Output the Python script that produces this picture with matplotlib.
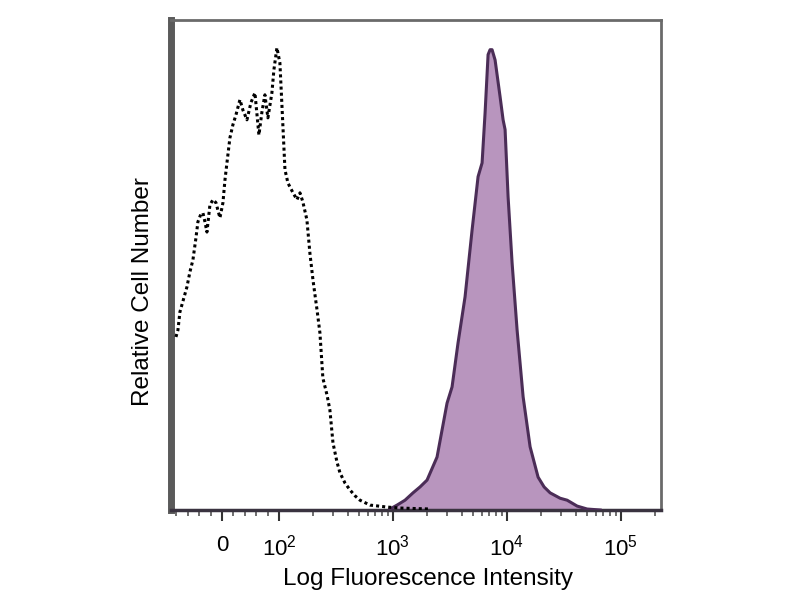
import matplotlib
matplotlib.use("Agg")
import matplotlib.pyplot as plt

plt.rcParams['font.family'] = ['Liberation Sans', 'DejaVu Sans']
plt.rcParams['mathtext.fontset'] = 'custom'
plt.rcParams['mathtext.rm'] = 'Liberation Sans'
plt.rcParams['mathtext.it'] = 'Liberation Sans'

# isotype control (dotted, unfilled)
iso_x = [-80.7, -77.2, -73.7, -66.7, -61.4, -56.1, -50.9, -45.6, -42.1, -36.8,
         -33.3, -29.8, -26.3, -21.1, -15.8, -10.5, -3.5, 1.8, 5.3, 8.8,
         14.0, 19.3, 24.6, 31.6, 36.8, 43.9, 50.9, 57.9, 64.9, 70.2,
         75.4, 80.7, 87.7, 91.2, 96.5, 102, 106, 113, 120, 133,
         144, 153, 162, 176, 187, 199, 216, 229, 243, 264,
         280, 298, 323, 343, 380, 420, 465, 514, 630, 888,
         1154, 2117]
iso_y = [35.3, 36.7, 40.4, 43.3, 45.5, 48.6, 51.0, 55.5, 58.8, 60.4,
         60.6, 58.8, 56.7, 62.2, 63.3, 62.7, 59.6, 62.7, 67.3, 70.8,
         75.9, 78.6, 80.6, 83.7, 81.6, 79.6, 83.1, 85.1, 76.5, 81.2,
         84.7, 80.0, 85.1, 89.8, 94.3, 91.2, 83.1, 69.4, 66.7, 64.7,
         63.3, 64.7, 62.9, 59.2, 52.4, 46.9, 40.8, 36.1, 26.9, 23.5,
         20.4, 13.7, 9.8, 7.6, 5.5, 4.1, 2.9, 2.0, 1.0, 0.6,
         0.4, 0.2]

# stained sample (filled)
pos_x = [943, 1087, 1277, 1501, 1729, 1993, 2439, 2698, 2985, 3303,
         3728, 4296, 4950, 5587, 6058, 6436, 6839, 7121, 7413, 7879,
         8716, 9262, 9643, 10245, 11109, 12291, 13878, 15980, 18784, 21213,
         23950, 29310, 33780, 41330, 50590, 65820]
pos_y = [0.2, 1.0, 2.0, 3.5, 4.7, 6.1, 10.8, 16.3, 21.8, 25.1,
         34.1, 43.5, 57.1, 68.0, 70.8, 81.0, 92.9, 93.9, 93.9, 91.8,
         84.3, 79.6, 77.6, 63.9, 50.4, 36.7, 23.1, 12.9, 6.7, 4.7,
         3.5, 2.4, 2.0, 0.8, 0.2, 0.0]

major_ticks = [0, 100, 1000, 10000, 100000]
major_labels = ['0', '$10^2$', '$10^3$', '$10^4$', '$10^5$']

fig = plt.figure(figsize=(8, 6), dpi=100)
ax = fig.add_axes([0.214, 0.15, 0.612, 0.817])

ax.fill_between(pos_x, pos_y, 0, color='#b895be', lw=0, zorder=2)
ax.plot(pos_x, pos_y, color='#4b2d57', lw=2.2, zorder=3)
ax.plot(iso_x, iso_y, color='black', lw=2.2, ls=(0, (1, 1)), zorder=4)

ax.set_xscale('symlog', linthresh=100, linscale=0.45)
ax.set_xlim(-89, 2.24e5)
ax.set_ylim(0, 100)

ax.set_xticks(major_ticks)
ax.set_xticklabels(major_labels)
minor = [-80, -60, -40, -20, 20, 40, 60, 80]
for d in [100, 1000, 10000, 100000]:
    minor += [d * k for k in range(2, 10)]
minor = [m for m in minor if m < 2.2e5]
ax.set_xticks(minor, minor=True)
ax.tick_params(axis='x', which='major', length=8, width=1.5, color='#333333',
               labelsize=16, pad=10)
ax.tick_params(axis='x', which='minor', length=4, width=1.2, color='#555555')
ax.set_yticks([])

ax.spines['left'].set_linewidth(5)
ax.spines['left'].set_color('#5a5a5a')
ax.spines['bottom'].set_linewidth(2.5)
ax.spines['bottom'].set_color('#3a3340')
for s in ['top', 'right']:
    ax.spines[s].set_linewidth(2)
    ax.spines[s].set_color('#6a6a6a')

ax.set_xlabel('Log Fluorescence Intensity', fontsize=17.5)
ax.set_ylabel('Relative Cell Number', fontsize=17.5)
ax.xaxis.set_label_coords(0.524, -0.118)
ax.yaxis.set_label_coords(-0.036, 0.445)

fig.savefig('out.png', dpi=100)
